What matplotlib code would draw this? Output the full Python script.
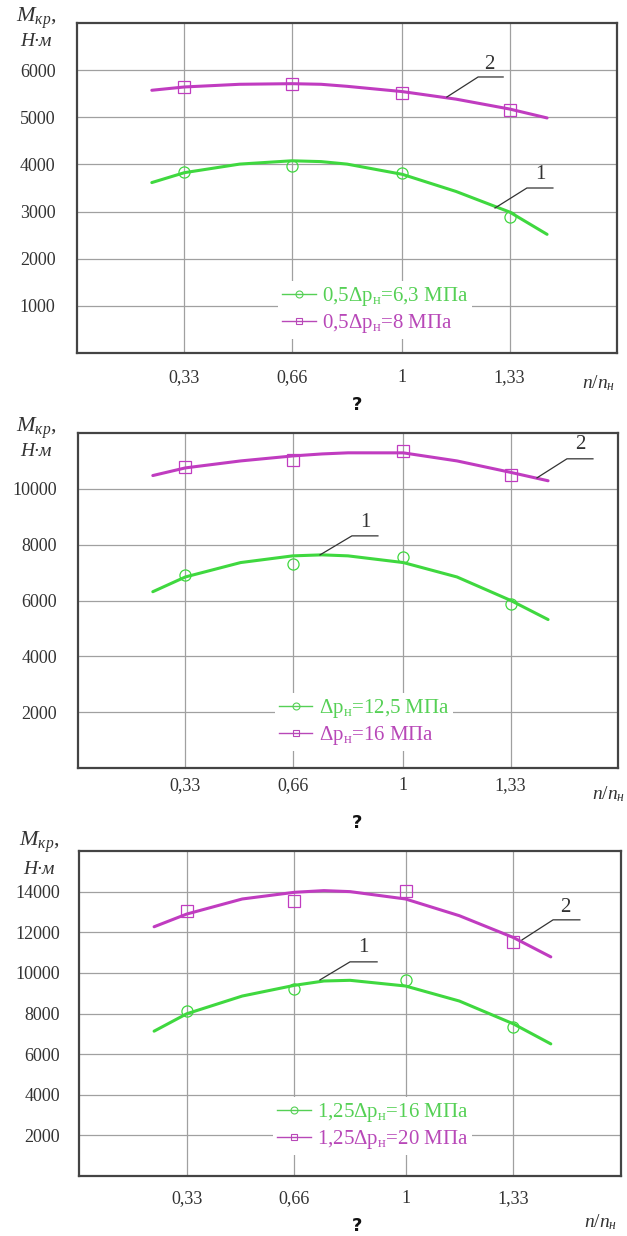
import matplotlib
matplotlib.use('Agg')
import matplotlib.pyplot as plt
from matplotlib.lines import Line2D

plt.rcParams['font.family'] = ['Liberation Serif', 'DejaVu Serif']
plt.rcParams['mathtext.fontset'] = 'custom'
plt.rcParams['mathtext.rm'] = 'Liberation Serif'
plt.rcParams['mathtext.it'] = 'Liberation Serif:italic'

W, H = 627, 1236

# --- data ---
x_points = [0.33, 0.66, 1.0, 1.33]
x_ticklabels = ['0,33', '0,66', '1', '1,33']
x_curve = [0.23, 0.33, 0.5, 0.66, 0.75, 0.83, 1.0, 1.165, 1.33, 1.445]

a_circles = [3846, 3965, 3825, 2880]
a_squares = [5643, 5713, 5510, 5150]
a_curve1 = [3615, 3825, 4007, 4077, 4060, 4007, 3790, 3427, 2990, 2517]
a_curve2 = [5573, 5643, 5700, 5713, 5700, 5657, 5545, 5385, 5175, 4986]
a_labels = ['0,5Δp$_\\mathrm{н}$=6,3 МПа', '0,5Δp$_\\mathrm{н}$=8 МПа']

b_circles = [6903, 7323, 7575, 5882]
b_squares = [10780, 11040, 11350, 10500]
b_curve1 = [6315, 6843, 7359, 7599, 7635, 7599, 7359, 6843, 6003, 5318]
b_curve2 = [10476, 10750, 11000, 11178, 11250, 11290, 11289, 11000, 10590, 10289]
b_labels = ['Δp$_\\mathrm{н}$=12,5 МПа', 'Δp$_\\mathrm{н}$=16 МПа']

c_circles = [8119, 9190, 9650, 7344]
c_squares = [13060, 13555, 14050, 11530]
c_curve1 = [7130, 7987, 8860, 9387, 9600, 9634, 9354, 8613, 7493, 6504]
c_curve2 = [12270, 12896, 13638, 13967, 14050, 14000, 13638, 12814, 11743, 10787]
c_labels = ['1,25Δp$_\\mathrm{н}$=16 МПа', '1,25Δp$_\\mathrm{н}$=20 МПа']

GREEN = '#3fd83f'
MAGENTA = '#c03cc0'
GREEN_TXT = '#55d055'
MAGENTA_TXT = '#b848b8'

panels = [
    dict(rect=(77, 23, 617, 353), ylim=7000, yticks=range(1000, 7000, 1000),
         circles=a_circles, squares=a_squares, c1=a_curve1, c2=a_curve2, labels=a_labels,
         leg=(0.552, 0.130), xpad=11.5, ypad=15.5,
         ann1=((1.285, 3076), (1.383, 3500), 1.463, (1.423, 3776)),
         ann2=((1.137, 5430), (1.233, 5855), 1.31, (1.266, 6110)),
         ylab=(36, 18, 42), xlab=(582, 383), q=(357, 405)),
    dict(rect=(78, 433, 618, 768), ylim=12000, yticks=range(2000, 12000, 2000),
         circles=b_circles, squares=b_squares, c1=b_curve1, c2=b_curve2, labels=b_labels,
         leg=(0.53, 0.137), xpad=6.5, ypad=15,
         ann1=((0.744, 7634), (0.842, 8315), 0.922, (0.882, 8781)),
         ann2=((1.411, 10394), (1.503, 11075), 1.583, (1.543, 11577)),
         ylab=(36, 428, 452), xlab=(592, 794), q=(357, 823)),
    dict(rect=(79, 851, 621, 1176), ylim=16000, yticks=range(2000, 16000, 2000),
         circles=c_circles, squares=c_squares, c1=c_curve1, c2=c_curve2, labels=c_labels,
         leg=(0.542, 0.154), xpad=10, ypad=13.5,
         ann1=((0.738, 9655), (0.830, 10542), 0.913, (0.870, 11232)),
         ann2=((1.357, 11626), (1.452, 12611), 1.534, (1.49, 13200)),
         ylab=(39, 842, 869), xlab=(584, 1222), q=(357, 1226)),
]

fig = plt.figure(figsize=(W / 100, H / 100), dpi=100)

for p in panels:
    l, t, r, b = p['rect']
    ax = fig.add_axes([l / W, 1 - b / H, (r - l) / W, (b - t) / H])
    ax.set_xlim(0, 1.66)
    ax.set_ylim(0, p['ylim'])
    ax.set_xticks(x_points)
    ax.set_xticklabels(x_ticklabels)
    ax.set_yticks(list(p['yticks']))
    ax.tick_params(axis='x', length=0, pad=p['xpad'], labelsize=13, labelcolor='#333333')
    ax.tick_params(axis='y', length=0, pad=p['ypad'], labelsize=13, labelcolor='#333333')
    ax.grid(True, color='#a0a0a0', lw=0.9)
    ax.set_axisbelow(True)
    for s in ax.spines.values():
        s.set_color('#444444')
        s.set_linewidth(1.6)

    ax.plot(x_curve, p['c1'], color=GREEN, lw=2.2, solid_capstyle='round', zorder=3)
    ax.plot(x_curve, p['c2'], color=MAGENTA, lw=2.2, solid_capstyle='round', zorder=3)
    ax.plot(x_points, p['circles'], ls='none', marker='o', ms=8, mfc='none',
            mec=GREEN, mew=0.9, zorder=4)
    ax.plot(x_points, p['squares'], ls='none', marker='s', ms=8.5, mfc='none',
            mec=MAGENTA, mew=0.9, zorder=4)

    # numbered leaders
    for num, (pt, elbow, xend, lab) in (('1', p['ann1']), ('2', p['ann2'])):
        ax.plot([pt[0], elbow[0], xend], [pt[1], elbow[1], elbow[1]],
                color='#333333', lw=0.9, zorder=5)
        ax.text(lab[0], lab[1], num, ha='center', va='center', fontsize=15,
                color='#333333', zorder=5)

    handles = [
        Line2D([], [], color=GREEN_TXT, lw=1, marker='o', ms=5, mfc='none', mew=0.8),
        Line2D([], [], color=MAGENTA_TXT, lw=1, marker='s', ms=5, mfc='none', mew=0.8),
    ]
    leg = ax.legend(handles, p['labels'], loc='center', bbox_to_anchor=p['leg'],
                    fontsize=15, frameon=True, facecolor='white', edgecolor='none',
                    framealpha=1, borderpad=0.2, labelspacing=0.2, handlelength=1.6,
                    handletextpad=0.3, borderaxespad=0)
    leg.get_texts()[0].set_color(GREEN_TXT)
    leg.get_texts()[1].set_color(MAGENTA_TXT)
    leg.set_zorder(6)

    # axis captions
    yx, yy1, yy2 = p['ylab']
    fig.text(yx / W, 1 - yy1 / H, '$M_{\\mathit{кр}}$,', ha='center', va='center',
             fontsize=16, color='#333333')
    fig.text(yx / W, 1 - yy2 / H, 'Н·м', ha='center', va='center', fontsize=14,
             style='italic', color='#333333')
    xx, xy = p['xlab']
    fig.text(xx / W, 1 - xy / H, '$n/n_{\\mathit{н}}$', ha='left', va='center',
             fontsize=14, color='#333333')
    qx, qy = p['q']
    fig.text(qx / W, 1 - qy / H, '?', ha='center', va='center', fontsize=13,
             family='DejaVu Sans', weight='bold', color='#111111')

fig.savefig('out.png', dpi=100)
